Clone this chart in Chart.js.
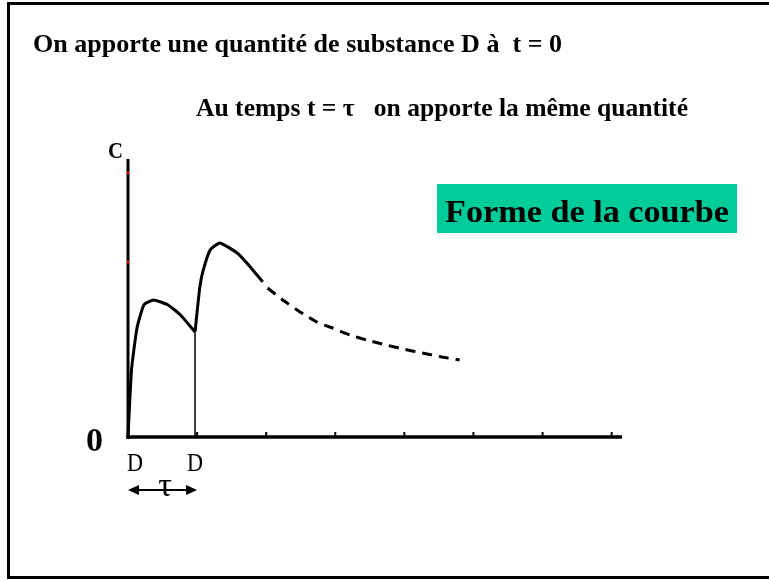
<!DOCTYPE html>
<html lang="fr">
<head>
<meta charset="utf-8">
<title>Forme de la courbe</title>
<script src="https://cdn.jsdelivr.net/npm/chart.js@4"></script>
<style>
  html, body { margin: 0; padding: 0; background: #fff; }
  #page { position: relative; width: 769px; height: 580px; overflow: hidden; background: #fff; }
  #cadre { position: absolute; left: 7px; top: 2px; width: 820px; height: 577px; border: 3px solid #000; box-sizing: border-box; }
  #courbe { position: absolute; left: 0; top: 0; }
  #boite { position: absolute; left: 437px; top: 184px; width: 300px; height: 49px; background: #00cc99; }
  .txt { position: absolute; white-space: nowrap; line-height: 1; color: #000;
         font-family: "Liberation Serif", "Times New Roman", serif; transform-origin: 0 0; }
  .gras { font-weight: bold; }
</style>
</head>
<body>
<div id="page">
  <div id="cadre"></div>
  <div id="boite"></div>
  <canvas id="courbe" width="769" height="580"></canvas>

  <div class="txt gras" data-w="529" style="left:33px; top:31px; font-size:26px;">On apporte une quantité de substance D à&nbsp; t = 0</div>
  <div class="txt gras" data-w="492" style="left:196px; top:95px; font-size:26px;">Au temps t = τ &nbsp; on apporte la même quantité</div>
  <div class="txt gras" data-w="284" style="left:445px; top:195px; font-size:32px;">Forme de la courbe</div>

  <div class="txt" data-w="15" style="left:108px; top:138px; font-size:24px; font-weight:600;">C</div>
  <div class="txt gras" data-w="17" style="left:86px; top:424px; font-size:33px;">0</div>
  <div class="txt" data-w="16" style="left:127px; top:450px; font-size:25px;">D</div>
  <div class="txt" data-w="16" style="left:187px; top:450px; font-size:25px;">D</div>
  <div class="txt" data-cx="165" style="left:158px; top:468px; font-size:34px;">τ</div>
</div>

<script>
// temps en unités de tau, concentration en % de l'axe
const tau = 1;
const tMax = 7.15;
const cMax = 100;
const xTicks = [1, 2, 3, 4, 5, 6, 7];
const yMarks = [63, 95];

// première dose (t = 0)
const t1 = [0, 0.05, 0.13, 0.23, 0.37, 0.58, 0.76, 0.97];
const c1 = [0, 24, 39.2, 47.5, 49.3, 47.5, 43.9, 37.8];

// deuxième dose (t = tau)
const t2 = [0.97, 1.04, 1.09, 1.19, 1.33, 1.58, 1.72, 1.95];
const c2 = [37.8, 54.0, 60.1, 67.3, 69.8, 66.2, 62.6, 55.8];

// décroissance ensuite (pointillés)
const t3 = [2.02, 2.24, 2.49, 2.73, 2.96, 3.21, 3.45, 3.74, 3.97, 4.26, 4.54, 4.80];
const c3 = [53.6, 49.3, 45.0, 41.4, 39.2, 36.7, 34.9, 33.1, 31.7, 30.2, 28.8, 27.7];

const points = (ts, cs) => ts.map((t, i) => ({ x: t, y: cs[i] }));
const tDose = t1[t1.length - 1];
const cDose = c1[c1.length - 1];

// axes, graduations et flèche tau
const axesPlugin = {
  id: "axes",
  beforeDatasetsDraw(chart) {
    const ctx = chart.ctx;
    const xs = chart.scales.x;
    const ys = chart.scales.y;
    const x0 = xs.getPixelForValue(0);
    const y0 = ys.getPixelForValue(0);
    ctx.save();
    ctx.strokeStyle = "#000";
    ctx.lineCap = "butt";

    ctx.lineWidth = 3;
    ctx.beginPath();
    ctx.moveTo(x0, ys.getPixelForValue(cMax));
    ctx.lineTo(x0, y0 + 2);
    ctx.stroke();

    ctx.lineWidth = 3.5;
    ctx.beginPath();
    ctx.moveTo(x0 - 1.5, y0);
    ctx.lineTo(xs.getPixelForValue(tMax), y0);
    ctx.stroke();

    ctx.lineWidth = 2;
    xTicks.forEach((t) => {
      const x = xs.getPixelForValue(t);
      ctx.beginPath();
      ctx.moveTo(x, y0);
      ctx.lineTo(x, y0 - 5);
      ctx.stroke();
    });

    ctx.fillStyle = "#ff0000";
    yMarks.forEach((c) => {
      const y = ys.getPixelForValue(c);
      ctx.fillRect(x0 - 1, y - 1.5, 2, 3);
    });

    // flèche double entre 0 et tau
    const ya = 490;
    const xa = xs.getPixelForValue(0);
    const xb = xs.getPixelForValue(tau);
    ctx.fillStyle = "#000";
    ctx.lineWidth = 2;
    ctx.beginPath();
    ctx.moveTo(xa + 6, ya);
    ctx.lineTo(xb - 6, ya);
    ctx.stroke();
    ctx.beginPath();
    ctx.moveTo(xa, ya);
    ctx.lineTo(xa + 11, ya - 5);
    ctx.lineTo(xa + 11, ya + 5);
    ctx.closePath();
    ctx.fill();
    ctx.beginPath();
    ctx.moveTo(xb, ya);
    ctx.lineTo(xb - 11, ya - 5);
    ctx.lineTo(xb - 11, ya + 5);
    ctx.closePath();
    ctx.fill();
    ctx.restore();
  },
};

const ligne = (data, extra) => Object.assign({
  data: data,
  borderColor: "#000",
  borderWidth: 3,
  pointRadius: 0,
  tension: 0.15,
  fill: false,
  clip: false,
}, extra);

new Chart(document.getElementById("courbe").getContext("2d"), {
  type: "line",
  data: {
    datasets: [
      ligne(points(t1, c1)),
      ligne([{ x: tDose, y: cDose }, { x: tDose, y: 0 }], { borderWidth: 1.5, tension: 0 }),
      ligne(points(t2, c2)),
      ligne(points(t3, c3), { borderDash: [10, 7], borderCapStyle: "butt" }),
    ],
  },
  options: {
    responsive: false,
    animation: false,
    devicePixelRatio: 1,
    events: [],
    layout: { padding: { left: 128, right: 147, top: 159, bottom: 143 } },
    scales: {
      x: { type: "linear", display: false, min: 0, max: tMax },
      y: { type: "linear", display: false, min: 0, max: cMax },
    },
    plugins: {
      legend: { display: false },
      tooltip: { enabled: false },
    },
  },
  plugins: [axesPlugin],
});

// ajuste la largeur des textes
document.querySelectorAll(".txt").forEach((el) => {
  const w = el.getBoundingClientRect().width;
  if (el.dataset.w) {
    el.style.transform = "scaleX(" + (parseFloat(el.dataset.w) / w) + ")";
  }
  if (el.dataset.cx) {
    el.style.left = (parseFloat(el.dataset.cx) - w / 2) + "px";
  }
});
</script>
</body>
</html>
